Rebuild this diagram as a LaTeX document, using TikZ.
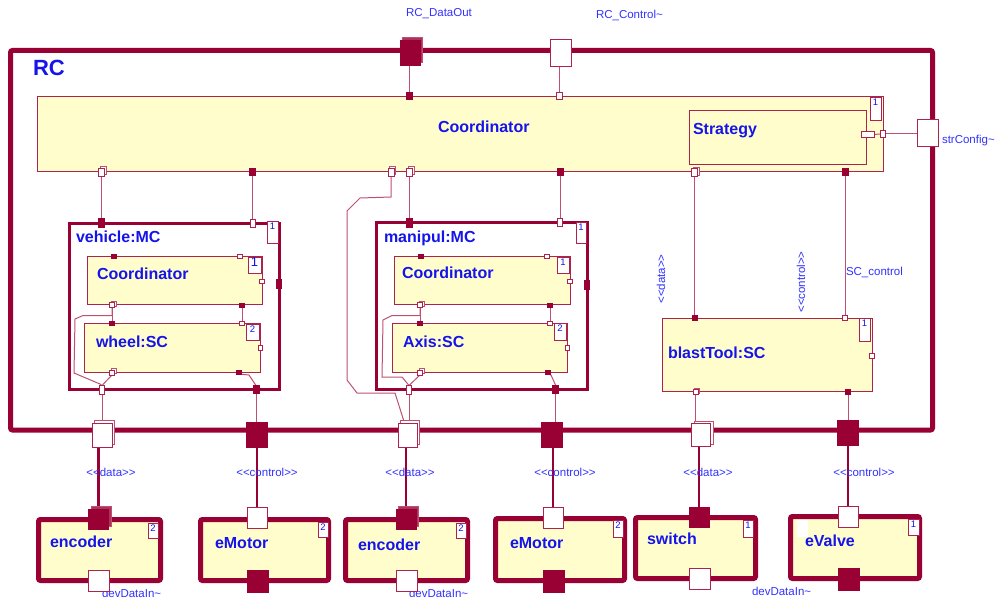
\documentclass[tikz,border=0pt]{standalone}
\usepackage{fontspec}
\setmainfont{Liberation Sans}[Ligatures=TeXOff]
\usetikzlibrary{shadows,calc}

\definecolor{maroon}{RGB}{153,0,51}
\definecolor{wire}{RGB}{192,80,112}
\definecolor{edge}{RGB}{172,36,78}
\definecolor{paper}{RGB}{255,253,204}
\definecolor{ink}{RGB}{20,20,235}
\definecolor{note}{RGB}{50,50,255}

\pgfdeclarelayer{boxes}
\pgfdeclarelayer{wires}
\pgfsetlayers{boxes,wires,main}

% box from its upper-left to its lower-right corner (centre line of the border)
\newcommand\partat[6]{\node[#1, minimum width={#5-#3}, minimum height={#6-#4}] (#2) at (#3,#4) {};}
% multiplicity tag
\newcommand\multat[7][multnum]{\node[mult, minimum width={#4-#2}, minimum height={#5-#3}, label={[#1]north:#6}] (#7) at (#2,#3) {};}
% port centred at a point
\newcommand\portat[6]{\node[#1, minimum width=#5, minimum height=#6] (#2) at (#3,#4) {};}

\tikzset{
  every node/.style={inner sep=0pt, outer sep=0pt},
  frame/.style={draw=maroon, line width=5pt, rounded corners=2pt, fill=white, anchor=north west},
  cluster/.style={draw=maroon, line width=3pt, fill=white, anchor=north west},
  part/.style={draw=edge, line width=0.9pt, fill=paper, anchor=north west},
  device/.style={draw=maroon, line width=5pt, rounded corners=2pt, fill=paper, anchor=north west},
  mult/.style={draw=edge, line width=0.8pt, fill=white, anchor=north west},
  multnum/.style={anchor=north, yshift=-1.5pt, font=\fontsize{9.5}{10}\selectfont, text=ink},
  multbig/.style={anchor=north, yshift=-0.5pt, font=\fontsize{13}{14}\selectfont, text=ink},
  pw/.style={draw=edge, line width=0.9pt, fill=white},
  pf/.style={draw=maroon, line width=0.9pt, fill=maroon},
  rep/.style={copy shadow={shadow xshift=2.5pt, shadow yshift=2.5pt, draw=wire, fill=white, line width=0.8pt}},
  repf/.style={copy shadow={shadow xshift=2.5pt, shadow yshift=2.5pt, draw=wire, fill=maroon!80, line width=0.8pt}},
  reps/.style={copy shadow={shadow xshift=1.5pt, shadow yshift=1.5pt, draw=wire, fill=white, line width=0.7pt}},
  wire/.style={draw=wire, line width=1pt},
  link/.style={draw=maroon, line width=2.8pt},
  title/.style={anchor=base west, font=\fontsize{16}{18}\selectfont\bfseries, text=ink},
  tag/.style={font=\fontsize{11.5}{13}\selectfont, text=note},
}

\begin{document}
\begin{tikzpicture}[x=1pt,y=-1pt]
\useasboundingbox (0,0) rectangle (996,599);

\begin{pgfonlayer}{boxes}
  % capsule frame
  \partat{frame}{rc}{10.5}{50.5}{932.5}{430}
  \partat{part}{coord}{37}{96}{883}{171}
  \partat{part}{strat}{689}{110}{866}{164}
  % vehicle capsule
  \partat{cluster}{vmc}{69}{223}{279}{389.5}
  \partat{part}{vco}{87}{256}{262}{304}
  \partat{part}{vsc}{84}{323}{260}{372}
  % manipulator capsule
  \partat{cluster}{mmc}{376.5}{222.5}{587}{389}
  \partat{part}{mco}{394}{256}{570}{304}
  \partat{part}{msc}{392}{323}{567}{372}
  % tool
  \partat{part}{bt}{662}{318}{872}{391}
  % devices
  \partat{device}{enc1}{38.5}{519.5}{160.5}{580.5}
  \partat{device}{mot1}{200.5}{519.5}{328.5}{580.5}
  \partat{device}{enc2}{345.5}{519.5}{467.5}{580.5}
  \partat{device}{mot2}{495.5}{518.5}{624.5}{580.5}
  \partat{device}{sw}{635.5}{517.5}{755.5}{578.5}
  \partat{device}{ev}{790.5}{516.5}{919.5}{578.5}
  \fill[white] (797,520) rectangle (808,537);
\end{pgfonlayer}

% names
\node[title, font=\fontsize{22}{24}\selectfont\bfseries] (tRC) at (33,76) {RC};
\node[title] (tCoord) at (438,132) {Coordinator};
\node[title] (tStrat) at (693,135) {Strategy};
\node[title] (tVmc) at (76,242) {vehicle:MC};
\node[title] (tVco) at (97,279) {Coordinator};
\node[title] (tVsc) at (96,347) {wheel:SC};
\node[title] (tMmc) at (384,242) {manipul:MC};
\node[title] (tMco) at (402,278) {Coordinator};
\node[title] (tMsc) at (403,347) {Axis:SC};
\node[title] (tBt) at (668,358) {blastTool:SC};
\node[title] (tE1) at (50,547) {encoder};
\node[title] (tM1) at (215,548) {eMotor};
\node[title] (tE2) at (358,550.5) {encoder};
\node[title] (tM2) at (510,548) {eMotor};
\node[title] (tSw) at (647,544) {switch};
\node[title] (tEv) at (805,546) {eValve};

% port and connector labels
\node[tag, anchor=base] (lOut) at (439,17) {RC\_DataOut};
\node[tag, anchor=base west] (lCtl) at (596,19) {RC\_Control\textasciitilde};
\node[tag, anchor=base west] (lStr) at (942,144) {strConfig\textasciitilde};
\node[tag, anchor=base west] (lSc) at (846,275) {SC\_control};
\node[tag, rotate=90] (lRd) at (661,279) {<<data>>};
\node[tag, rotate=90] (lRc) at (801,282) {<<control>>};
\node[tag] (l1) at (111,472) {<<data>>};
\node[tag] (l2) at (267,472) {<<control>>};
\node[tag] (l3) at (410,472) {<<data>>};
\node[tag] (l4) at (565,472) {<<control>>};
\node[tag] (l5) at (708,472) {<<data>>};
\node[tag] (l6) at (864,472) {<<control>>};
\node[tag, anchor=base west] (d1) at (102,597) {devDataIn\textasciitilde};
\node[tag, anchor=base west] (d2) at (409,597) {devDataIn\textasciitilde};
\node[tag, anchor=base west] (d3) at (752,595) {devDataIn\textasciitilde};

% multiplicities
\multat{870}{97}{881}{120}{1}{mCoord}
\multat{267}{221}{278}{243}{1}{mVmc}
\multat[multbig]{248}{257}{261}{273}{1}{mVco}
\multat{246}{324}{259}{340}{2}{mVsc}
\multat{576}{222}{586}{243}{1}{mMmc}
\multat{557}{257}{569}{273}{1}{mMco}
\multat{554}{323}{566}{340}{2}{mMsc}
\multat{859}{318}{870}{341}{1}{mBt}
\multat{148}{523}{158}{538}{2}{mE1}
\multat{318}{522}{328}{537}{2}{mM1}
\multat{456}{523}{466}{538}{2}{mE2}
\multat{613}{520}{623}{537}{2}{mM2}
\multat{743}{520}{753}{537}{1}{mSw}
\multat{908}{519}{919}{535}{1}{mEv}

% border ports of the capsule
\portat{pf,repf}{pOut}{410}{52.5}{20}{25}
\portat{pw}{pCtl}{560.5}{52.5}{21}{27}
\portat{pw}{pStr}{927.5}{132.5}{21}{27}
\portat{pw,rep}{b1}{102}{435}{20}{24}
\portat{pf}{b2}{256.5}{434.5}{21}{25}
\portat{pw,rep}{b3}{407.5}{435}{19}{24}
\portat{pf}{b4}{552}{434.5}{21}{25}
\portat{pw,rep}{b5}{701}{435}{19}{23}
\portat{pf}{b6}{847.5}{433}{21}{25}

% coordinator ports
\portat{pf}{cT1}{409.5}{96}{6}{7}
\portat{pw}{cT2}{559}{96}{6}{7}
\portat{pw}{cR}{882.5}{134}{5}{7}
\portat{pw}{sR}{867.5}{134.5}{13}{6}
\portat{pw,reps}{cB1}{101.5}{172}{6}{8}
\portat{pf}{cB2}{252.5}{171.5}{6}{7}
\portat{pw,reps}{cB3}{391}{172}{6}{8}
\portat{pw,reps}{cB4}{409.5}{172}{6}{8}
\portat{pf}{cB5}{560}{171.5}{6}{7}
\portat{pw,reps}{cB6}{694.5}{172.5}{6}{8}
\portat{pf}{cB7}{845}{171.5}{6}{7}

% vehicle ports
\portat{pf}{vT1}{101.5}{223}{6}{9}
\portat{pw}{vT2}{252.5}{223}{5}{8}
\portat{pf}{vR}{279}{284}{5}{9}
\portat{pw}{vB1}{102}{390}{5}{9}
\portat{pf}{vB2}{256}{389.5}{6}{8}
\portat{pf}{cvT1}{114}{256}{5}{4}
\portat{pw}{cvT2}{239.5}{256}{5}{4}
\portat{pw}{cvR}{262}{281}{5}{4}
\portat{pw,reps}{cvB1}{112}{305}{5}{5}
\portat{pf}{cvB2}{242}{305}{5}{4}
\portat{pf}{svT1}{112}{323}{5}{4}
\portat{pw}{svT2}{242}{323}{5}{4}
\portat{pw}{svR}{260}{348}{4}{5}
\portat{pw,reps}{svB1}{112}{372.5}{5}{5}
\portat{pf}{svB2}{239}{372}{5}{4}

% manipulator ports
\portat{pf}{mT1}{409.5}{222.5}{6}{9}
\portat{pw}{mT2}{560}{222.5}{5}{8}
\portat{pf}{mR}{587}{285}{5}{9}
\portat{pw}{mB1}{409}{390}{5}{9}
\portat{pf}{mB2}{555.5}{389}{6}{8}
\portat{pf}{cmT1}{421}{256}{5}{4}
\portat{pw}{cmT2}{547}{256}{5}{4}
\portat{pw}{cmR}{570}{281}{5}{4}
\portat{pw,reps}{cmB1}{420}{305}{5}{5}
\portat{pf}{cmB2}{550}{305}{5}{4}
\portat{pf}{smT1}{420}{323}{5}{4}
\portat{pw}{smT2}{550}{323}{5}{4}
\portat{pw}{smR}{567.5}{348}{4}{5}
\portat{pw,reps}{smB1}{420}{372.5}{5}{5}
\portat{pf}{smB2}{548}{372}{5}{4}

% tool ports
\portat{pf}{btT1}{694.5}{318}{5}{5}
\portat{pw}{btT2}{845}{318}{5}{5}
\portat{pw}{btR}{872}{356}{5}{5}
\portat{pw,reps}{btB1}{695.5}{392}{5}{5}
\portat{pf}{btB2}{848}{391.5}{5}{5}

% device ports
\portat{pf,repf}{e1T}{98.5}{519}{20}{20}
\portat{pw}{m1T}{257}{518}{20}{21}
\portat{pf,repf}{e2T}{406}{519}{20}{20}
\portat{pw}{m2T}{553}{518}{20}{21}
\portat{pf}{swT}{699}{517}{20}{20}
\portat{pw}{evT}{848}{516.5}{20}{21}
\portat{pw}{e1B}{99}{581}{21}{21}
\portat{pf}{m1B}{257.5}{581.5}{21}{22}
\portat{pw}{e2B}{407}{581}{21}{21}
\portat{pf}{m2B}{553.5}{581.5}{21}{22}
\portat{pw}{swB}{699.5}{578.5}{21}{21}
\portat{pf}{evB}{848.5}{579}{21}{22}

\begin{pgfonlayer}{wires}
  % top level
  \draw[wire] (cT1.north) -- (cT1.north |- pOut.south);
  \draw[wire] (cT2.north) -- (cT2.north |- pCtl.south);
  \draw[wire] (sR.east) -- (cR.west);
  \draw[wire] (cR.east) -- (cR.east -| pStr.west);
  \draw[wire] (cB1.south) -- (cB1.south |- vT1.north);
  \draw[wire] (cB2.south) -- (cB2.south |- vT2.north);
  \draw[wire] (cB4.south) -- (cB4.south |- mT1.north);
  \draw[wire] (cB5.south) -- (cB5.south |- mT2.north);
  \draw[wire] (cB6.south) -- (cB6.south |- btT1.north);
  \draw[wire] (cB7.south) -- (cB7.south |- btT2.north);
  \draw[wire] (cB3.south) -- (391,197) -- (360,198) -- (347,211) -- (347,380)
     -- (357,393) -- (395,393) -- ($(b3.north)+(-3,0)$);
  % inside vehicle
  \draw[wire] (cvB1.south) -- (cvB1.south |- svT1.north);
  \draw[wire] (cvB2.south) -- (cvB2.south |- svT2.north);
  \draw[wire] (cvB1.south) |- (83,315.5) -- (75,319) -- (74,373) -- (100,384) -- (vB1.north);
  \draw[wire] (svB1.south) -- (vB1.north);
  \draw[wire] (svB2.south) -- (249,375) -- (vB2.north);
  \draw[wire] (vB1.south) -- (vB1.south |- b1.north);
  \draw[wire] (vB2.south) -- (vB2.south |- b2.north);
  % inside manipulator
  \draw[wire] (cmB1.south) -- (cmB1.south |- smT1.north);
  \draw[wire] (cmB2.south) -- (cmB2.south |- smT2.north);
  \draw[wire] (cmB1.south) |- (392,315.5) -- (383,320) -- (382,377) -- (402,377) -- (mB1.north);
  \draw[wire] (smB1.south) -- (mB1.north);
  \draw[wire] (smB2.south) -- (551,375) -- (mB2.north);
  \draw[wire] (mB1.south) -- (mB1.south |- b3.north);
  \draw[wire] (mB2.south) -- (mB2.south |- b4.north);
  % tool
  \draw[wire] (btB1.south) -- (btB1.south |- b5.north);
  \draw[wire] (btB2.south) -- (btB2.south |- b6.north);
  % to the devices
  \draw[link] (e1T.north) -- (e1T.north |- b1.south);
  \draw[link] (m1T.north) -- (m1T.north |- b2.south);
  \draw[link] (e2T.north) -- (e2T.north |- b3.south);
  \draw[link] (m2T.north) -- (m2T.north |- b4.south);
  \draw[link] (swT.north) -- (swT.north |- b5.south);
  \draw[link] (evT.north) -- (evT.north |- b6.south);
\end{pgfonlayer}
\end{tikzpicture}
\end{document}
